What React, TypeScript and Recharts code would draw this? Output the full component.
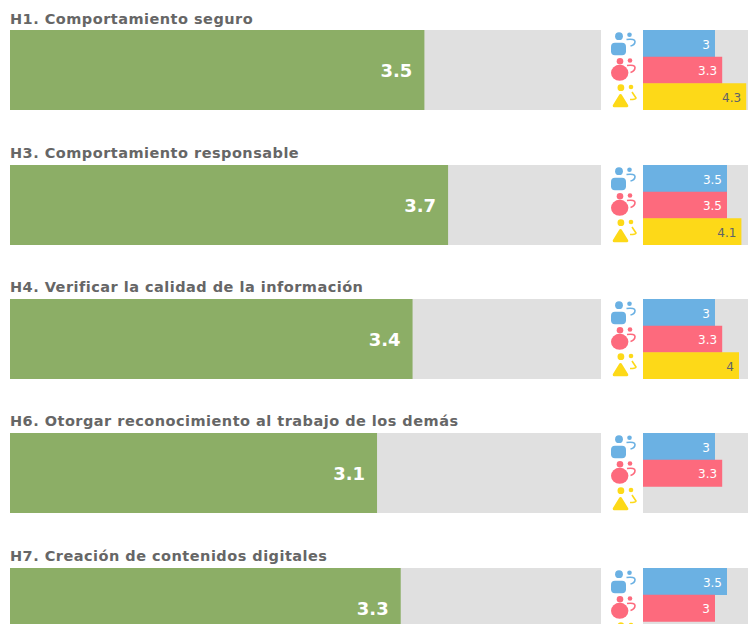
import React from 'react';
import { BarChart, Bar, XAxis, YAxis, LabelList } from 'recharts';

const titles = [
  'H1. Comportamiento seguro',
  'H3. Comportamiento responsable',
  'H4. Verificar la calidad de la información',
  'H6. Otorgar reconocimiento al trabajo de los demás',
  'H7. Creación de contenidos digitales',
];
const totals = [3.5, 3.7, 3.4, 3.1, 3.3];
const blueValues = [3, 3.5, 3, 3, 3.5];
const redValues = [3.3, 3.5, 3.3, 3.3, 3];
const yellowValues = [4.3, 4.1, 4, null, null];
const rowTops = [30, 165, 299, 433, 568];
const titleTops = [10, 144, 278, 412, 547];

const FONT = '"DejaVu Sans", sans-serif';
const TRACK = '#e0e0e0';
const BLUE = '#6bb1e3';
const RED = '#fd6a7d';
const YELLOW = '#fdd918';

function PeopleIcons() {
  return (
    <svg width={30} height={84} style={{ position: 'absolute', left: 610, top: 0 }}>
      <g fill={BLUE}>
        <circle cx={9} cy={6.2} r={3.9} />
        <circle cx={19.5} cy={4.8} r={2.3} />
        <rect x={1} y={12.7} width={15} height={12.5} rx={4} />
        <path d="M16.5 9.5 Q25 8.5 25 11.5 Q25 15 20.5 16" fill="none" stroke={BLUE} strokeWidth={1.6} />
      </g>
      <g fill={RED}>
        <circle cx={10} cy={31.2} r={3.3} />
        <circle cx={20} cy={30.5} r={2.3} />
        <ellipse cx={9.7} cy={42.8} rx={8.7} ry={8} />
        <path d="M17 35.5 Q25 34.5 25 37.5 Q25 41 20.5 42.5" fill="none" stroke={RED} strokeWidth={1.6} />
      </g>
      <g fill={YELLOW} stroke={YELLOW} strokeLinejoin="round">
        <circle cx={10.9} cy={57.7} r={3.4} stroke="none" />
        <circle cx={21} cy={57} r={2.3} stroke="none" />
        <path d="M10.5 65.5 L16.8 75.8 L4.2 75.8 Z" strokeWidth={3} />
        <path d="M22 62 L26 68 Q26 69.5 20 69.5" fill="none" strokeWidth={1.6} />
      </g>
    </svg>
  );
}

function TotalBar({ value }: { value: number }) {
  return (
    <div style={{ position: 'absolute', left: 10, top: 0, width: 591, height: 80, overflow: 'hidden', background: TRACK }}>
      <BarChart
        width={592}
        height={80}
        data={[{ name: 'total', value }]}
        layout="vertical"
        margin={{ top: 0, right: 0, bottom: 0, left: 0 }}
        barCategoryGap={0}
      >
        <XAxis type="number" domain={[0, 5]} hide />
        <YAxis type="category" dataKey="name" hide />
        <Bar dataKey="value" fill="#8cae66" isAnimationActive={false}>
          <LabelList
            dataKey="value"
            position="insideRight"
            offset={12}
            dy={1}
            fill="#ffffff"
            style={{ fontFamily: FONT, fontWeight: 700, fontSize: 18 }}
          />
        </Bar>
      </BarChart>
    </div>
  );
}

function GroupBars({ blue, red, yellow }: { blue: number; red: number; yellow: number | null }) {
  const data = [
    { name: 'blue', value: blue, fill: BLUE, ink: '#ffffff' },
    { name: 'red', value: red, fill: RED, ink: '#ffffff' },
    { name: 'yellow', value: yellow, fill: YELLOW, ink: '#5f6368' },
  ];
  return (
    <BarChart
      width={120}
      height={80}
      data={data}
      layout="vertical"
      margin={{ top: 0, right: 0, bottom: 0, left: 0 }}
      barCategoryGap={0}
      style={{ position: 'absolute', left: 643, top: 0, background: TRACK }}
    >
      <XAxis type="number" domain={[0, 5]} hide />
      <YAxis type="category" dataKey="name" hide />
      <Bar
        dataKey="value"
        isAnimationActive={false}
        label={(props: any) => {
          const { x, y, width, height, value, index } = props;
          if (value == null) return null;
          return (
            <text
              x={x + width - 5}
              y={y + height / 2 + 1}
              textAnchor="end"
              dominantBaseline="central"
              fill={data[index].ink}
              style={{ fontFamily: FONT, fontSize: 12 }}
            >
              {value}
            </text>
          );
        }}
      />
    </BarChart>
  );
}

export default function App() {
  return (
    <div
      style={{
        position: 'fixed',
        left: 0,
        top: 0,
        width: 748,
        height: 624,
        overflow: 'hidden',
        background: '#fff',
      }}
    >
      {titles.map((title, i) => (
        <React.Fragment key={title}>
          <div
            style={{
              position: 'absolute',
              left: 10,
              top: titleTops[i],
              fontFamily: FONT,
              fontWeight: 700,
              fontSize: 14.5,
              letterSpacing: 0.48,
              lineHeight: '18px',
              color: '#666666',
              whiteSpace: 'nowrap',
            }}
          >
            {title}
          </div>
          <div style={{ position: 'absolute', left: 0, top: rowTops[i], width: 748, height: 80 }}>
            <TotalBar value={totals[i]} />
            <PeopleIcons />
            <GroupBars blue={blueValues[i]} red={redValues[i]} yellow={yellowValues[i]} />
          </div>
        </React.Fragment>
      ))}
    </div>
  );
}
